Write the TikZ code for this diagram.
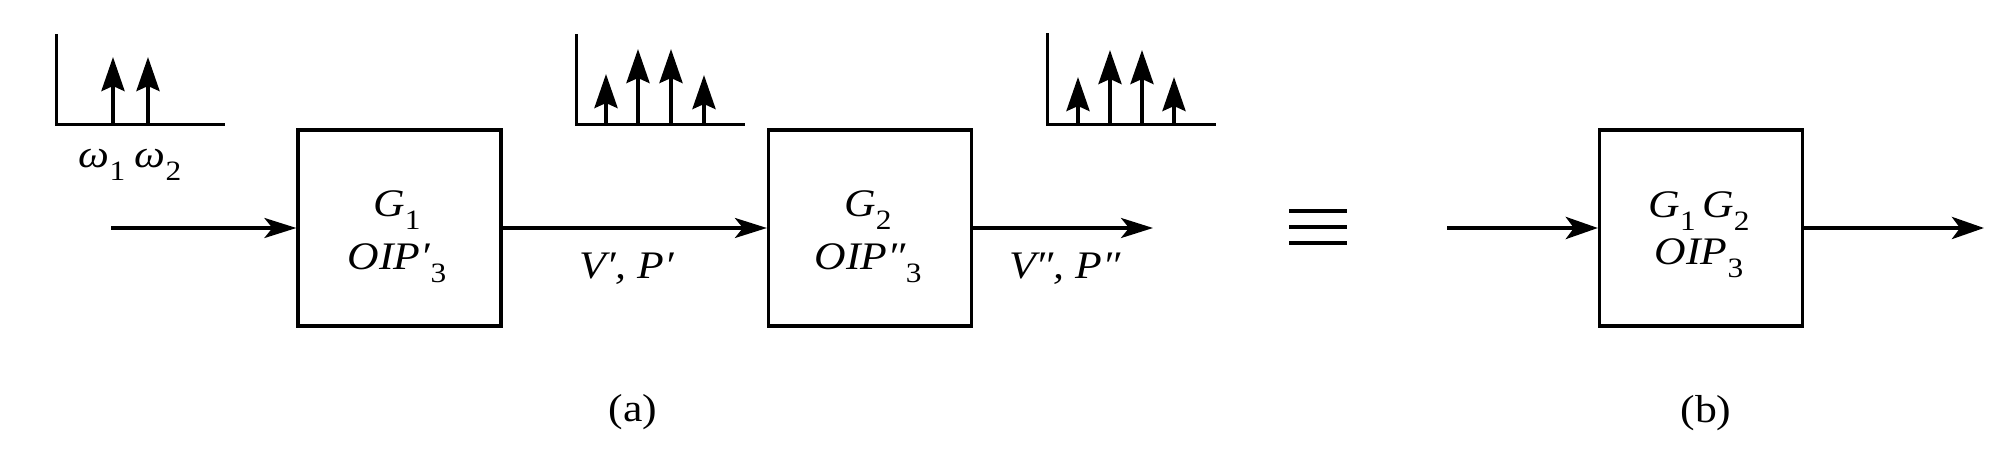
\documentclass[tikz,border=0pt]{standalone}
\usepackage{fontspec}
\setmainfont{Liberation Serif}[FakeStretch=1.12]
\usetikzlibrary{arrows.meta}
\newcommand\sbs[1]{\raisebox{-0.32em}{\fontsize{14}{14}\selectfont #1}}
\tikzset{
  blk/.style={draw, line width=1.6pt, minimum width=101.5pt, minimum height=98pt, inner sep=0pt},
  txt/.style={font=\fontsize{19.5}{26.5}\selectfont, inner sep=0pt},
  two/.style={txt, align=center, anchor=base},
  sig/.style={line width=1.7pt, -{Stealth[length=16pt,width=10pt,inset=4pt]}},
  sigb/.style={line width=2.3pt, -{Stealth[length=16pt,width=11pt,inset=4pt]}},
  axis/.style={line width=1.5pt, line cap=rect},
  spk/.style={line width=2pt, -{Stealth[length=17pt,width=11.5pt,inset=2.5pt]}},
  eqv/.style={line width=2.2pt}
}
\begin{document}
\begin{tikzpicture}[x=0.5pt,y=-0.5pt]
\useasboundingbox (0,0) rectangle (2002,464);

% spectrum 1
\draw[axis] (56,36) -- (56,125) -- (223,125);
\draw[spk] (113,125) -- (113,57);
\draw[spk] (148,125) -- (148,57);
\node[txt, anchor=base] (w1) at (102,168) {\textit{ω}\sbs{1}};
\node[txt, anchor=base] (w2) at (158,168) {\textit{ω}\sbs{2}};

% spectrum 2
\draw[axis] (576,36) -- (576,125) -- (743,125);
\draw[spk] (606,125) -- (606,74);
\draw[spk] (638,125) -- (638,49);
\draw[spk] (671,125) -- (671,49);
\draw[spk] (704,125) -- (704,75);

% spectrum 3
\draw[axis] (1047,35) -- (1047,125) -- (1214,125);
\draw[spk] (1078,125) -- (1078,77);
\draw[spk] (1110,125) -- (1110,50);
\draw[spk] (1142,125) -- (1142,50);
\draw[spk] (1174,125) -- (1174,77);

% blocks
\node[blk] (g1) at (399.5,228) {};
\node[blk] (g2) at (870,228) {};
\node[blk] (g12) at (1701,228) {};

\node[two] (g1t) at (397,270) {\textit{G}\sbs{1}\\\textit{OIP′}\sbs{3}};
\node[two] (g2t) at (868,270) {\textit{G}\sbs{2}\\\textit{OIP″}\sbs{3}};
\node[txt, align=center, anchor=base, font=\fontsize{19.5}{23.5}\selectfont] (g12t) at (1699,265) {\textit{G}\sbs{1}\,\textit{G}\sbs{2}\\\textit{OIP}\sbs{3}};

% connectors (a)
\coordinate (ina) at (111,228);
\coordinate (outa) at (1153,228);
\draw[sig] (ina) -- (g1.west);
\draw[sig] (g1.east) -- (g2.west);
\draw[sig] (g2.east) -- (outa);
\node[txt, anchor=base] (vp1) at (627,279) {\textit{V′, P′}};
\node[txt, anchor=base] (vp2) at (1065,279) {\textit{V″, P″}};

% equivalence
\draw[eqv] (1289,211) -- (1347,211);
\draw[eqv] (1289,227) -- (1347,227);
\draw[eqv] (1289,243) -- (1347,243);

% connectors (b)
\coordinate (inb) at (1447,228);
\coordinate (outb) at (1984,228);
\draw[sigb] (inb) -- (g12.west);
\draw[sigb] (g12.east) -- (outb);

% captions
\node[txt] (capa) at (633,412) {(a)};
\node[txt] (capb) at (1706,413) {(b)};
\end{tikzpicture}
\end{document}
